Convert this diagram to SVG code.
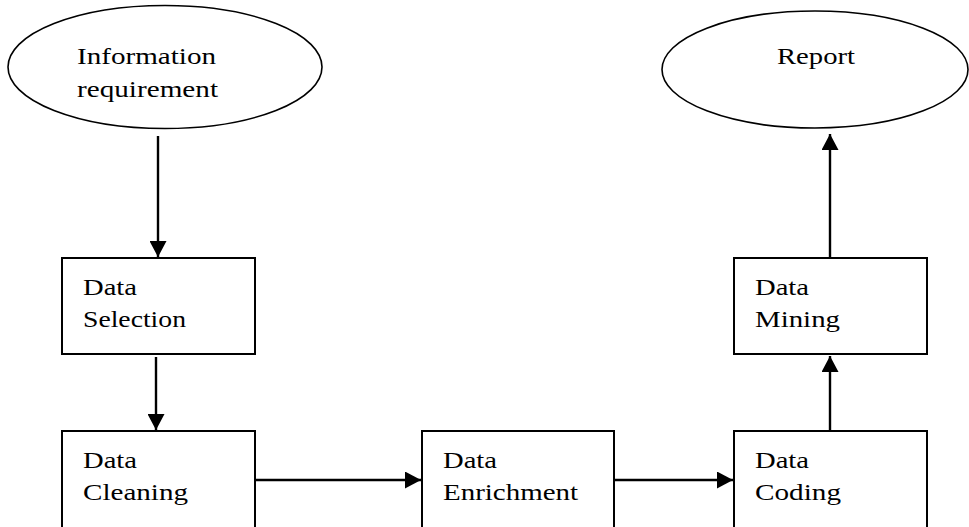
<svg xmlns="http://www.w3.org/2000/svg" width="969" height="527" viewBox="0 0 969 527">
  <style>
    .shape { fill: #ffffff; stroke: #000000; stroke-width: 2; }
    .oval { fill: #ffffff; stroke: #000000; stroke-width: 1.6; }
    .lbl { font-family: "Liberation Serif", "Times New Roman", serif; font-size: 22.5px; fill: #000000; }
    .conn { stroke: #000000; stroke-width: 2.4; fill: none; marker-end: url(#arrow); }
  </style>
  <defs>
    <marker id="arrow" markerUnits="userSpaceOnUse" markerWidth="17" markerHeight="17" refX="16" refY="8.5" orient="auto">
      <path d="M0,0 L16,8.5 L0,17 Z" fill="#000000"/>
    </marker>
  </defs>
  <rect width="969" height="527" fill="#ffffff"/>

  <g id="connectors">
    <line class="conn" x1="158" y1="136" x2="158" y2="257"/>
    <line class="conn" x1="156" y1="357" x2="156" y2="430"/>
    <line class="conn" x1="255" y1="480" x2="421" y2="480"/>
    <line class="conn" x1="614" y1="480" x2="733" y2="480"/>
    <line class="conn" x1="830" y1="431" x2="830" y2="356"/>
    <line class="conn" x1="830" y1="258" x2="830" y2="134"/>
  </g>

  <g id="info-req">
    <ellipse class="oval" cx="165" cy="67" rx="157" ry="61.5"/>
    <text class="lbl" x="77" y="64" textLength="139" lengthAdjust="spacingAndGlyphs">Information</text>
    <text class="lbl" x="77" y="97" textLength="141" lengthAdjust="spacingAndGlyphs">requirement</text>
  </g>

  <g id="report">
    <ellipse class="oval" cx="815" cy="69.5" rx="153" ry="58.5"/>
    <text class="lbl" x="777" y="64" textLength="78" lengthAdjust="spacingAndGlyphs">Report</text>
  </g>

  <g id="data-selection">
    <rect class="shape" x="62" y="258" width="193" height="96"/>
    <text class="lbl" x="83" y="295" textLength="54" lengthAdjust="spacingAndGlyphs">Data</text>
    <text class="lbl" x="83" y="327" textLength="103" lengthAdjust="spacingAndGlyphs">Selection</text>
  </g>

  <g id="data-cleaning">
    <rect class="shape" x="62" y="431" width="193" height="100"/>
    <text class="lbl" x="83" y="468" textLength="54" lengthAdjust="spacingAndGlyphs">Data</text>
    <text class="lbl" x="83" y="500" textLength="105" lengthAdjust="spacingAndGlyphs">Cleaning</text>
  </g>

  <g id="data-enrichment">
    <rect class="shape" x="422" y="431" width="192" height="100"/>
    <text class="lbl" x="443" y="468" textLength="54" lengthAdjust="spacingAndGlyphs">Data</text>
    <text class="lbl" x="443" y="500" textLength="135" lengthAdjust="spacingAndGlyphs">Enrichment</text>
  </g>

  <g id="data-coding">
    <rect class="shape" x="734" y="431" width="193" height="100"/>
    <text class="lbl" x="755" y="468" textLength="54" lengthAdjust="spacingAndGlyphs">Data</text>
    <text class="lbl" x="755" y="500" textLength="86" lengthAdjust="spacingAndGlyphs">Coding</text>
  </g>

  <g id="data-mining">
    <rect class="shape" x="734" y="258" width="193" height="96"/>
    <text class="lbl" x="755" y="295" textLength="54" lengthAdjust="spacingAndGlyphs">Data</text>
    <text class="lbl" x="755" y="327" textLength="85" lengthAdjust="spacingAndGlyphs">Mining</text>
  </g>
</svg>
